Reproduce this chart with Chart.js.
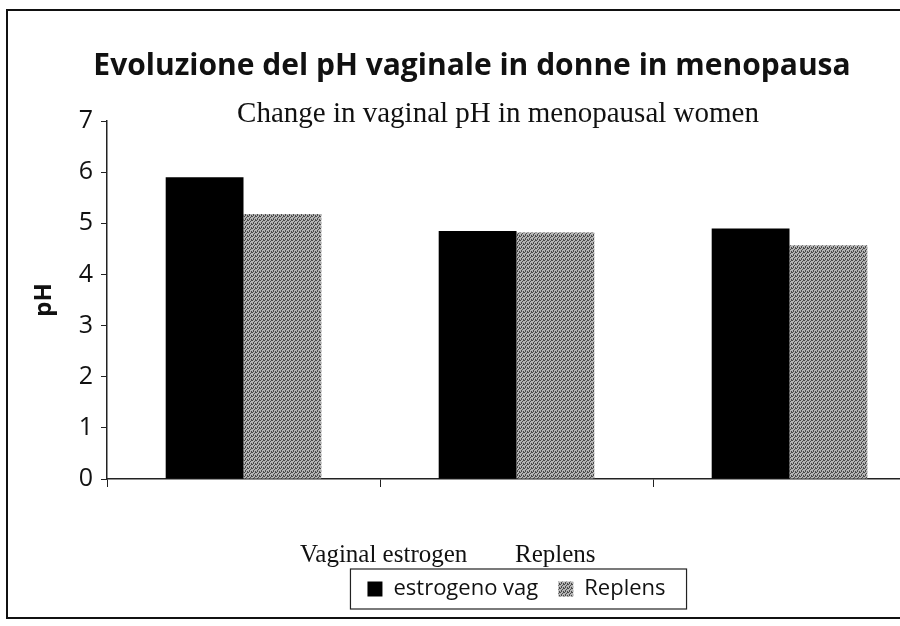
<!DOCTYPE html>
<html>
<head>
<meta charset="utf-8">
<script src="https://cdn.jsdelivr.net/npm/chart.js@4.4.1/dist/chart.umd.min.js"></script>
<style>
  html, body { margin: 0; padding: 0; background: #fff; overflow: hidden; }
  #wrap { position: relative; width: 900px; height: 626px; overflow: hidden; }
  #frame { position: absolute; left: 6px; top: 9px; width: 1000px; height: 606px; border: 2px solid #111; }
  #chart { position: absolute; left: 0; top: 0; }
</style>
</head>
<body>
<div id="wrap">
  <div id="frame"></div>
  <canvas id="chart" width="940" height="626"></canvas>
</div>
<script>
const categories = ['', '', ''];
const estrogenValues = [5.9, 4.85, 4.9];
const replensValues = [5.18, 4.82, 4.57];
const seriesNames = ['estrogeno vag', 'Replens'];
const titleText = 'Evoluzione del pH vaginale in donne in menopausa';
const subtitleText = 'Change in vaginal pH in menopausal women';
const legendNote = ['Vaginal estrogen', 'Replens'];
const yTicks = [0, 1, 2, 3, 4, 5, 6, 7];

// dotted grey like the scanned halftone
function halftone() {
    const c = document.createElement('canvas');
    c.width = 4; c.height = 4;
    const g = c.getContext('2d');
    g.fillStyle = '#b4b4b4';
    g.fillRect(0, 0, 4, 4);
    g.fillStyle = '#4a4a4a';
    g.fillRect(0, 0, 1, 1);
    g.fillRect(2, 1, 1, 1);
    g.fillRect(1, 2, 1, 1);
    g.fillRect(3, 3, 1, 1);
    g.fillRect(3, 0, 1, 1);
    g.fillRect(1, 3, 1, 1);
    return g.createPattern(c, 'repeat');
}

const ctx = document.getElementById('chart').getContext('2d');
const grey = halftone();

const extras = {
    id: 'extras',
    afterDraw(chart) {
        const c = chart.ctx;
        c.save();
        // subtitle in serif, as pasted on the original
        c.fillStyle = '#111';
        c.font = '29px "Liberation Serif"';
        c.textAlign = 'center';
        c.textBaseline = 'alphabetic';
        c.fillText(subtitleText, 498, 122);

        // box around the legend
        const hb = chart.legend.legendHitBoxes;
        const first = hb[0], last = hb[hb.length - 1];
        c.strokeStyle = '#222';
        c.lineWidth = 1.2;
        c.strokeRect(first.left - 17, first.top - 9, last.left + last.width - first.left + 38, first.height + 18);

        // translated legend note
        c.font = '25px "Liberation Serif"';
        c.textAlign = 'left';
        c.fillText(legendNote[0], 300, 562);
        c.fillText(legendNote[1], 515, 562);
        c.restore();
    }
};

new Chart(ctx, {
    type: 'bar',
    data: {
        labels: categories,
        datasets: [
            {
                label: seriesNames[0],
                data: estrogenValues,
                backgroundColor: '#000',
                categoryPercentage: 0.57,
                barPercentage: 1.0
            },
            {
                label: seriesNames[1],
                data: replensValues,
                backgroundColor: grey,
                categoryPercentage: 0.57,
                barPercentage: 1.0
            }
        ]
    },
    options: {
        responsive: false,
        animation: false,
        layout: { padding: { left: 18, right: 14, top: 0, bottom: 16 } },
        plugins: {
            title: {
                display: true,
                text: titleText,
                color: '#111',
                font: { family: 'Open Sans', size: 30, weight: 'bold' },
                padding: { top: 48, bottom: 37 }
            },
            legend: {
                position: 'bottom',
                fullSize: false,
                labels: {
                    color: '#111',
                    font: { family: 'Open Sans', size: 22 },
                    boxWidth: 15,
                    boxHeight: 15,
                    padding: 20
                }
            },
            tooltip: { enabled: false }
        },
        scales: {
            x: {
                grid: {
                    offset: true,
                    drawOnChartArea: false,
                    drawTicks: true,
                    tickLength: 8,
                    color: '#222'
                },
                border: { color: '#222', width: 1.5 },
                ticks: { display: false },
                afterFit: scale => { scale.height = 79; }
            },
            y: {
                min: 0,
                max: 7,
                afterBuildTicks: scale => { scale.ticks = yTicks.map(v => ({ value: v })); },
                grid: {
                    drawOnChartArea: false,
                    tickLength: 6,
                    color: '#222'
                },
                border: { color: '#222', width: 1.5 },
                ticks: {
                    color: '#111',
                    padding: 8,
                    font: { family: 'Open Sans', size: 25 }
                },
                title: {
                    display: true,
                    text: 'pH',
                    color: '#111',
                    font: { family: 'Open Sans', size: 24, weight: 'bold' },
                    padding: { top: 12, bottom: 0 }
                },
                afterFit: scale => { scale.width = 89; }
            }
        }
    },
    plugins: [extras]
});
</script>
</body>
</html>
